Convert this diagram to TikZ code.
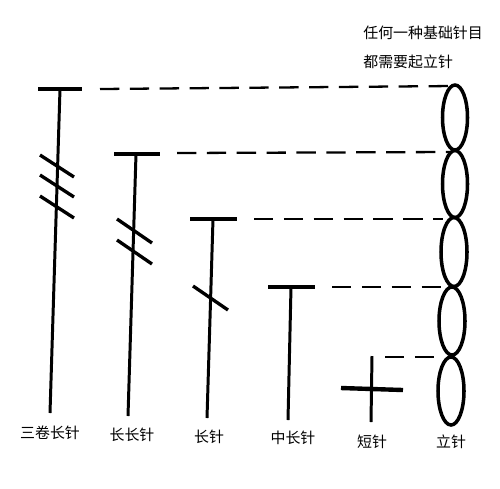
\documentclass[tikz,border=0pt]{standalone}
\usepackage{fontspec}
\newfontfamily\cjk{Noto Sans CJK SC}
\tikzset{
    bar/.style={line width=2.5pt},
    stem/.style={line width=1.7pt},
    slash/.style={line width=1.9pt},
    guide/.style={line width=1.3pt, dash pattern=on 11pt off 6pt},
    loop/.style={line width=2pt},
    lbl/.style={font=\cjk\fontsize{8.5}{10}\selectfont, inner sep=0pt},
}
\begin{document}
\begin{tikzpicture}[x=0.02cm, y=-0.02cm]
    \useasboundingbox (0,0) rectangle (500,488);

    %% Chain of standing stitches
    \begin{scope}
        % Loops
        \draw[loop] (455,117.5) ellipse[x radius=12.5, y radius=32.5];
        \draw[loop] (455,184) ellipse[x radius=12.5, y radius=33.5];
        \draw[loop] (454,252) ellipse[x radius=13, y radius=34.5];
        \draw[loop] (452,321) ellipse[x radius=13, y radius=34];
        \draw[loop] (451,391) ellipse[x radius=13, y radius=34];

        % Joins
        \coordinate (j1) at (453,86);
        \coordinate (j2) at (452,152);
        \coordinate (j3) at (443,219);
        \coordinate (j4) at (452,287);
        \coordinate (j5) at (434,357);
    \end{scope}

    %% Stitches
    \begin{scope}
        % Triple treble
        \draw[bar] (38,89) -- (82,89);
        \draw[stem] (60,89) -- (50,413);
        \draw[slash] (40,155) -- (74,177);
        \draw[slash] (40,175) -- (74,197);
        \draw[slash] (40,196) -- (74,218);
        \coordinate (b1) at (100,89);

        % Double treble
        \draw[bar] (114,154) -- (160,154);
        \draw[stem] (136,154) -- (128,416);
        \draw[slash] (117,219) -- (152,243);
        \draw[slash] (117,240) -- (152,264);
        \coordinate (b2) at (177,153);

        % Treble
        \draw[bar] (190,219) -- (237,219);
        \draw[stem] (213,219) -- (207,418);
        \draw[slash] (193,286) -- (228,310);
        \coordinate (b3) at (254,219);

        % Half treble
        \draw[bar] (268,287) -- (315,287);
        \draw[stem] (291,287) -- (288,420);
        \coordinate (b4) at (332,287);

        % Double crochet
        \draw[stem] (372,356) -- (371,422);
        \draw[bar] (341,388) -- (403,390);
        \coordinate (b5) at (385,357);
    \end{scope}

    % Guide lines
    \draw[guide] (b1) -- (j1);
    \draw[guide] (b2) -- (j2);
    \draw[guide] (b3) -- (j3);
    \draw[guide] (b4) -- (j4);
    \draw[guide] (b5) -- (j5);

    % Labels
    \node[lbl] (l1) at (50,433) {三卷长针};
    \node[lbl] (l2) at (132,435) {长长针};
    \node[lbl] (l3) at (209,437) {长针};
    \node[lbl] (l4) at (293,438) {中长针};
    \node[lbl] (l5) at (372,442) {短针};
    \node[lbl] (l6) at (451,442) {立针};

    % Note
    \node[lbl, anchor=west] (n1) at (363,33) {任何一种基础针目};
    \node[lbl, anchor=west] (n2) at (363,62) {都需要起立针};

\end{tikzpicture}
\end{document}
